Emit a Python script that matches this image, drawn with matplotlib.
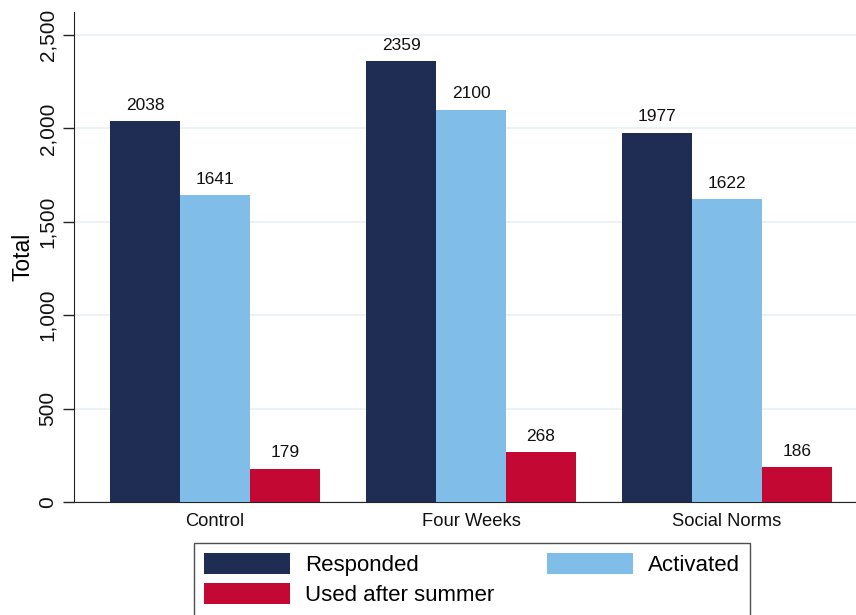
import matplotlib
matplotlib.use("Agg")
import matplotlib.pyplot as plt
import numpy as np
from matplotlib.ticker import FuncFormatter

categories = ["Control", "Four Weeks", "Social Norms"]
series_names = ["Responded", "Activated", "Used after summer"]
responded = [2038, 2359, 1977]
activated = [1641, 2100, 1622]
used_after = [179, 268, 186]
yticks = [0, 500, 1000, 1500, 2000, 2500]

colors = ["#1f2d55", "#80bde9", "#c20833"]

plt.rcParams['font.family'] = ['Liberation Sans', 'DejaVu Sans']

fig = plt.figure(figsize=(8.56, 6.15), dpi=100)
ax = fig.add_axes([74/856, 1-502/615, 1-74/856, (502-12)/615])

x = np.arange(len(categories))
w = 0.273
handles = []
for i, (vals, name, c) in enumerate(zip([responded, activated, used_after], series_names, colors)):
    bars = ax.bar(x + (i-1)*w, vals, width=w, color=c, label=name, zorder=3, linewidth=0)
    ax.bar_label(bars, labels=[str(v) for v in vals], padding=6, fontsize=12.5, color="#111111")
    handles.append(bars)

ax.set_xlim(-0.551, 2.504)
ax.set_ylim(0, 2623)
ax.set_yticks(yticks)
ax.yaxis.set_major_formatter(FuncFormatter(lambda v, p: f"{int(v):,}"))
ax.set_xticks(x)
ax.set_xticklabels(categories, fontsize=13.2)
for lab in ax.get_yticklabels():
    lab.set_rotation(90)
    lab.set_va("center")
    lab.set_fontsize(15)
ax.tick_params(axis='y', length=8, width=1, pad=4, colors="#222222", labelcolor="#111111")
ax.tick_params(axis='x', length=0, width=1, pad=8, colors="#222222", labelcolor="#111111")
ax.grid(axis='y', color="#e8f0f3", linewidth=1.2, zorder=0)
ax.spines['top'].set_visible(False)
ax.spines['right'].set_visible(False)
ax.spines['left'].set_color("#222222")
ax.spines['bottom'].set_color("#222222")
ax.set_ylabel("Total", fontsize=16.5, labelpad=3)

order = [0, 2, 1]
leg = fig.legend(handles=[handles[k] for k in order], labels=[series_names[k] for k in order],
                 ncol=2, loc='upper left',
                 bbox_to_anchor=(194/856, 1-543/615), bbox_transform=fig.transFigure,
                 fontsize=16, frameon=True, fancybox=False, edgecolor="#222222",
                 handlelength=3.87, handleheight=1.1, handletextpad=0.68,
                 columnspacing=2.36, labelspacing=0.3, borderpad=0.45, borderaxespad=0)
leg.get_frame().set_linewidth(1.0)

fig.savefig("out.png", dpi=100)
